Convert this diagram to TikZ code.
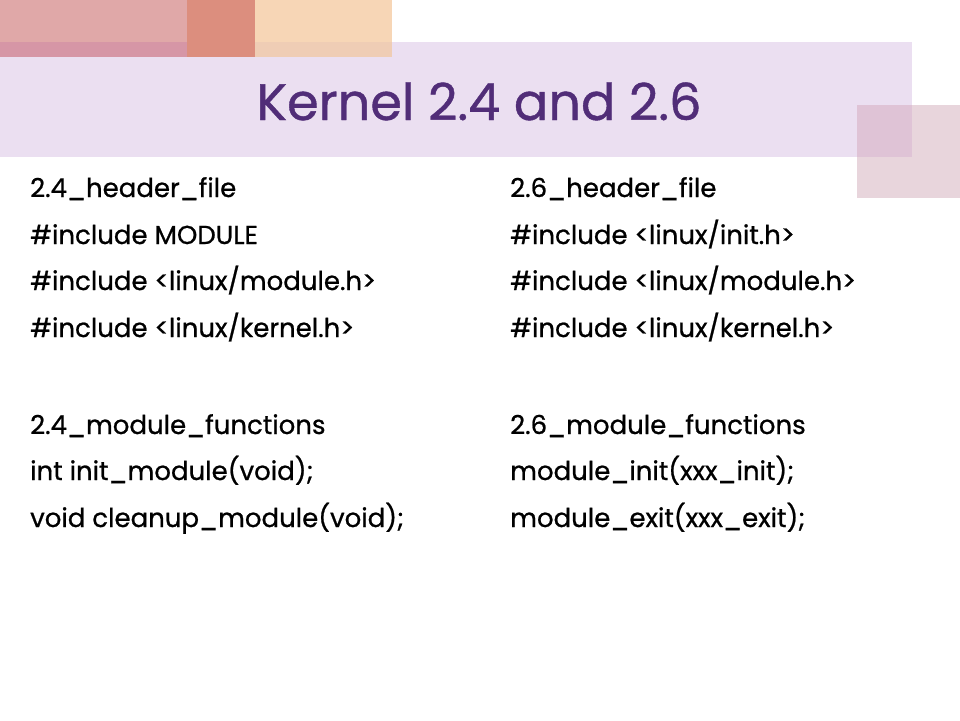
\documentclass[tikz,border=0pt]{standalone}
\usepackage{fontspec}
\setmainfont{Poppins}[BoldFont=Poppins, BoldFeatures={FakeBold=0.8}]
\definecolor{bandc}{HTML}{EBDFF1}
\definecolor{pinkc}{HTML}{E0A8A8}
\definecolor{pinkov}{HTML}{D696A6}
\definecolor{darkc}{HTML}{DC8E7E}
\definecolor{peachc}{HTML}{F7D6B6}
\definecolor{peachov}{HTML}{EFCDB5}
\definecolor{sqc}{HTML}{E8D5DC}
\definecolor{sqov}{HTML}{DFC3D6}
\definecolor{titlec}{HTML}{512D78}
\tikzset{
  body/.style={anchor=base west, inner sep=0pt, font=\fontsize{26}{30}\bfseries\selectfont, text=black},
  ttl/.style={anchor=base, inner sep=0pt, font=\fontsize{51}{56}\bfseries\selectfont, text=titlec}
}
\begin{document}
\begin{tikzpicture}[x=1pt,y=-1pt]
\useasboundingbox (0,0) rectangle (960,720);
\fill[white] (0,0) rectangle (960,720);
% band
\fill[bandc] (0,42) rectangle (912,157);
% top rectangles
\fill[pinkc] (0,0) rectangle (187,42);
\fill[pinkov] (0,42) rectangle (187,57);
\fill[darkc] (187,0) rectangle (255,57);
\fill[peachc] (255,0) rectangle (392,42);
\fill[peachov] (255,42) rectangle (392,57);
% right square
\fill[sqc] (857,105) rectangle (960,198);
\fill[sqov] (857,105) rectangle (912,157);
% title
\node[ttl] (title) at (479,120) {Kernel 2.4 and 2.6};
% left column
\node[body] (l1) at (30,197) {2.4\_header\_file};
\node[body] (l2) at (30,244) {\#include MODULE};
\node[body] (l3) at (30,290) {\#include <linux/module.h>};
\node[body] (l4) at (30,337) {\#include <linux/kernel.h>};
\node[body] (l5) at (30,434) {2.4\_module\_functions};
\node[body] (l6) at (30,480) {int init\_module(void);};
\node[body] (l7) at (30,527) {void cleanup\_module(void);};
% right column
\node[body] (r1) at (510,197) {2.6\_header\_file};
\node[body] (r2) at (510,244) {\#include <linux/init.h>};
\node[body] (r3) at (510,290) {\#include <linux/module.h>};
\node[body] (r4) at (510,337) {\#include <linux/kernel.h>};
\node[body] (r5) at (510,434) {2.6\_module\_functions};
\node[body] (r6) at (510,480) {module\_init(xxx\_init);};
\node[body] (r7) at (510,527) {module\_exit(xxx\_exit);};
\end{tikzpicture}
\end{document}
